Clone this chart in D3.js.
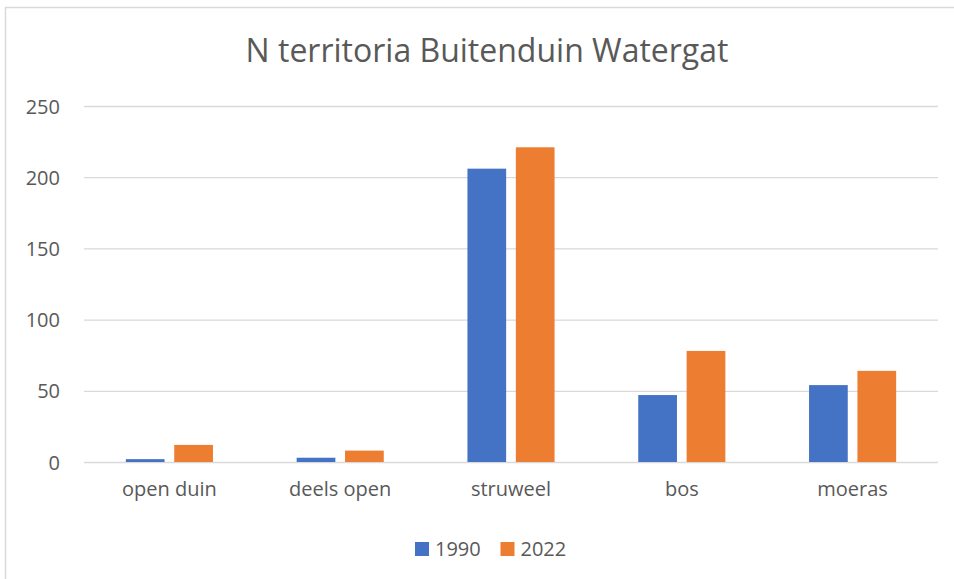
<!DOCTYPE html>
<html>
<head>
<meta charset="utf-8">
<script src="https://cdn.jsdelivr.net/npm/d3@7"></script>
<style>
  body { margin: 0; background: #fff; }
  svg text { font-family: "Open Sans", sans-serif; fill: #595959; }
</style>
</head>
<body>
<div id="chart"></div>
<script>
// data
const categories = ["open duin", "deels open", "struweel", "bos", "moeras"];
const seriesNames = ["1990", "2022"];
const values1990 = [2, 3, 206, 47, 54];
const values2022 = [12, 8, 221, 78, 64];
const yTicks = [0, 50, 100, 150, 200, 250];
const colors = ["#4472C4", "#ED7D31"];

const W = 954, H = 579;
const margin = { top: 106, right: 16, bottom: 117, left: 84 };
const width = W - margin.left - margin.right;
const height = H - margin.top - margin.bottom;

const svg = d3.select("#chart").append("svg")
    .attr("width", W)
    .attr("height", H);

// chart frame (cut off on the right and bottom in the original)
svg.append("rect")
    .attr("x", 5.5).attr("y", 7.5)
    .attr("width", 990).attr("height", 620)
    .attr("fill", "#fff")
    .attr("stroke", "#d9d9d9")
    .attr("stroke-width", 1.5);

svg.append("text")
    .attr("x", 487).attr("y", 62)
    .attr("text-anchor", "middle")
    .style("font-size", "32px")
    .text("N territoria Buitenduin Watergat");

const g = svg.append("g")
    .attr("transform", `translate(${margin.left},${margin.top})`);

let x0 = d3.scaleBand()
    .domain(categories)
    .range([0, width])
    .paddingInner(0)
    .paddingOuter(0);

let x1 = d3.scaleBand()
    .domain(seriesNames)
    .range([x0.bandwidth() * 0.245, x0.bandwidth() * 0.755])
    .paddingInner(0.2)
    .paddingOuter(0);

let y = d3.scaleLinear()
    .domain([0, 250])
    .range([height, 0]);

// gridlines + y labels
const axeY = d3.axisLeft(y)
    .tickValues(yTicks)
    .tickSize(-width)
    .tickPadding(24);
const groupeY = g.append("g").call(axeY);
groupeY.select(".domain").remove();
groupeY.selectAll(".tick line").attr("stroke", "#d9d9d9").attr("stroke-width", 1.3);
groupeY.selectAll(".tick text")
    .style("font-size", "20px")
    .attr("fill", "#595959")
    .attr("dy", "0.35em");

// bars
const rows = categories.map((c, i) => ({ cat: c, vals: [values1990[i], values2022[i]] }));
const groups = g.selectAll(".cat")
    .data(rows)
    .enter()
    .append("g")
    .attr("transform", d => `translate(${x0(d.cat)},0)`);

groups.selectAll("rect")
    .data(d => d.vals.map((v, k) => ({ s: seriesNames[k], v: v, k: k })))
    .enter()
    .append("rect")
    .attr("x", d => x1(d.s))
    .attr("y", d => y(d.v))
    .attr("width", x1.bandwidth())
    .attr("height", d => height - y(d.v))
    .attr("fill", d => colors[d.k]);

// x labels
const axeX = d3.axisBottom(x0).tickSize(0).tickPadding(0);
const groupeX = g.append("g")
    .attr("transform", `translate(0,${height})`)
    .call(axeX);
groupeX.select(".domain").remove();
groupeX.selectAll(".tick text")
    .style("font-size", "20px")
    .attr("fill", "#595959")
    .attr("dy", null)
    .attr("y", 34);

// legend
const legend = svg.append("g");
const legendX = [415, 500.5];
seriesNames.forEach((s, k) => {
    legend.append("rect")
        .attr("x", legendX[k]).attr("y", 542)
        .attr("width", 14).attr("height", 14)
        .attr("fill", colors[k]);
    legend.append("text")
        .attr("x", legendX[k] + 20).attr("y", 556)
        .style("font-size", "20px")
        .text(s);
});
</script>
</body>
</html>
